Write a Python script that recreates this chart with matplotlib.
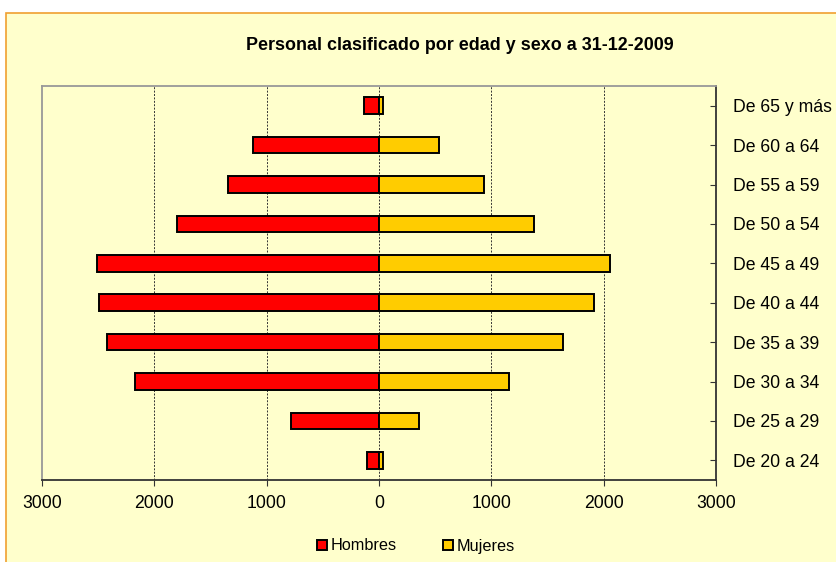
import matplotlib
matplotlib.use("Agg")
import matplotlib.pyplot as plt
from matplotlib.patches import Rectangle
import numpy as np

plt.rcParams["font.family"] = ["Liberation Sans", "DejaVu Sans"]

# datos
grupos = ["De 20 a 24", "De 25 a 29", "De 30 a 34", "De 35 a 39", "De 40 a 44",
          "De 45 a 49", "De 50 a 54", "De 55 a 59", "De 60 a 64", "De 65 y más"]
hombres = [103, 781, 2171, 2421, 2489, 2510, 1797, 1340, 1119, 134]
mujeres = [36, 354, 1159, 1634, 1916, 2053, 1381, 936, 538, 39]
x_ticks = [-3000, -2000, -1000, 0, 1000, 2000, 3000]

COLOR_H = "#FF0000"
COLOR_M = "#FFCC00"
FONDO = "#FFFFCC"

fig = plt.figure(figsize=(8.37, 5.62), dpi=100)
fig.patch.set_facecolor("white")
fig.patches.append(Rectangle((6 / 837, -0.02), 1.0, 1 - 13 / 562 + 0.02,
                             transform=fig.transFigure, facecolor=FONDO,
                             edgecolor="#F0A030", linewidth=1.2, zorder=-10))

ax = fig.add_axes([42 / 837, 82 / 562, 674 / 837, 394 / 562])
ax.set_facecolor(FONDO)

y = np.arange(len(grupos))
alto = 0.42
ax.barh(y, [-v for v in hombres], height=alto, color=COLOR_H, edgecolor="black",
        linewidth=1.4, label="Hombres", zorder=3)
ax.barh(y, mujeres, height=alto, color=COLOR_M, edgecolor="black",
        linewidth=1.4, label="Mujeres", zorder=3)

ax.set_xlim(-3000, 3000)
ax.set_ylim(-0.5, len(grupos) - 0.5)
ax.set_xticks(x_ticks)
ax.set_xticklabels([str(abs(t)) for t in x_ticks], fontsize=12.7)
ax.set_yticks(y)
ax.set_yticklabels(grupos, fontsize=12.7)
ax.yaxis.tick_right()
ax.tick_params(axis="y", direction="in", length=4, pad=12, colors="#333333",
               labelcolor="black")
ax.tick_params(axis="x", direction="out", length=4, pad=7, colors="#333333",
               labelcolor="black")

for xv in x_ticks[1:-1]:
    ax.axvline(xv, color="#333333", linewidth=0.7, linestyle=(0, (2, 1.5)), zorder=1)

ax.spines["left"].set_color("#999999")
ax.spines["top"].set_color("#999999")
ax.spines["right"].set_color("#333333")
ax.spines["bottom"].set_color("#333333")
for s in ax.spines.values():
    s.set_linewidth(1.3)

fig.text(460 / 837, 1 - 45 / 562, "Personal clasificado por edad y sexo a 31-12-2009",
         ha="center", va="center", fontsize=12.9, fontweight="bold")

fig.legend(loc="center", bbox_to_anchor=(416 / 837, 1 - 546 / 562), ncol=2,
           frameon=False, fontsize=11.7, handlelength=0.6, handleheight=0.6,
           handletextpad=0.2, columnspacing=2.9)

fig.savefig("out.png", dpi=100, facecolor=fig.get_facecolor())
